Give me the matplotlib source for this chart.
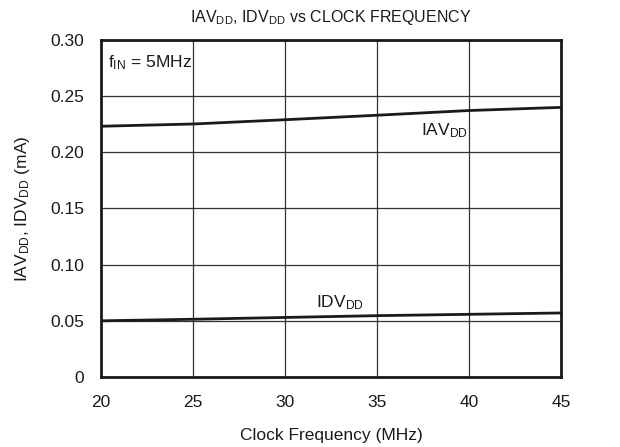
import matplotlib
matplotlib.use("Agg")
import matplotlib.pyplot as plt

plt.rcParams['font.family'] = ['Liberation Sans', 'DejaVu Sans']
plt.rcParams['mathtext.fontset'] = 'custom'
plt.rcParams['mathtext.rm'] = 'Liberation Sans'
plt.rcParams['mathtext.it'] = 'Liberation Sans'

# clock frequency (MHz) and supply currents (mA)
clock_mhz = [20, 25, 30, 35, 40, 45]
iavdd = [0.2232, 0.2252, 0.2290, 0.2330, 0.2372, 0.2400]
idvdd = [0.0500, 0.0514, 0.0530, 0.0546, 0.0558, 0.0570]

yticks = [0, 0.05, 0.10, 0.15, 0.20, 0.25, 0.30]
ytick_labels = ['0', '0.05', '0.10', '0.15', '0.20', '0.25', '0.30']
xticks = [20, 25, 30, 35, 40, 45]

ink = '#1a1a1a'
fs = 12.5

fig = plt.figure(figsize=(6.2, 4.47), dpi=100)
ax = fig.add_axes([0.163, 0.1566, 0.742, 0.754])

ax.plot(clock_mhz, iavdd, color=ink, lw=2.0, zorder=3)
ax.plot(clock_mhz, idvdd, color=ink, lw=2.0, zorder=3)

ax.set_xlim(20, 45)
ax.set_ylim(0, 0.30)
ax.set_xticks(xticks)
ax.set_yticks(yticks)
ax.set_yticklabels(ytick_labels)
ax.tick_params(length=0, labelsize=fs, colors=ink)
ax.tick_params(axis='x', pad=13)
ax.tick_params(axis='y', pad=12)
ax.grid(True, color='#333333', lw=0.9)
ax.set_axisbelow(True)
for s in ax.spines.values():
    s.set_linewidth(2.0)
    s.set_color(ink)

ax.text(20.35, 0.2795, r'f$_{\mathrm{IN}}$ = 5MHz', fontsize=fs, color=ink,
        va='center', ha='left')
ax.text(37.4, 0.2195, r'IAV$_{\mathrm{DD}}$', fontsize=fs, color=ink,
        va='center', ha='left')
ax.text(31.7, 0.0665, r'IDV$_{\mathrm{DD}}$', fontsize=fs, color=ink,
        va='center', ha='left')

ax.set_xlabel('Clock Frequency (MHz)', fontsize=fs, color=ink, labelpad=13)
ax.set_ylabel(r'IAV$_{\mathrm{DD}}$, IDV$_{\mathrm{DD}}$ (mA)', fontsize=fs,
              color=ink, labelpad=13)
ax.set_title(r'IAV$_{\mathrm{DD}}$, IDV$_{\mathrm{DD}}$ vs CLOCK FREQUENCY',
             fontsize=11.5, color=ink, pad=13)

fig.savefig('out.png', dpi=100)
